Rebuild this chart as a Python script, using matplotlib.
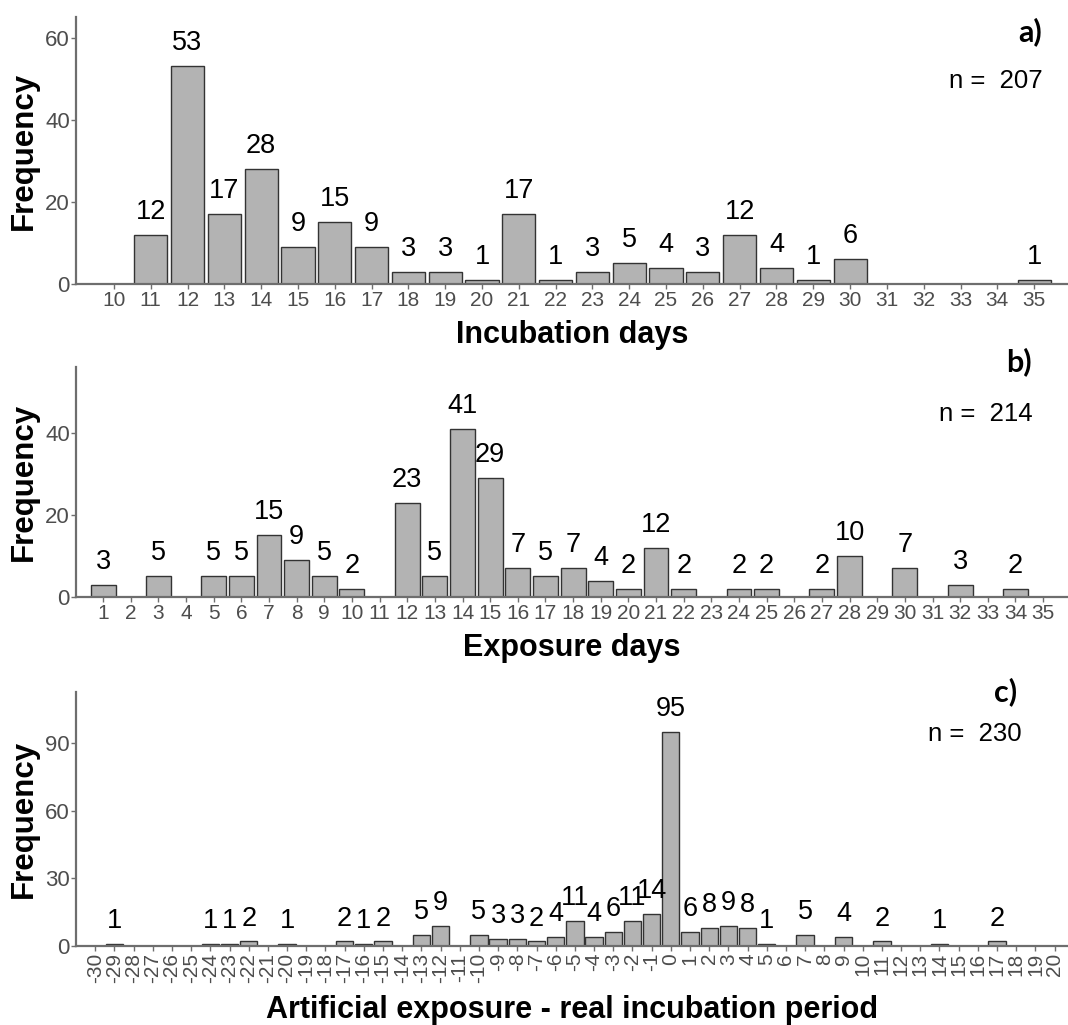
import matplotlib
matplotlib.use("Agg")
import matplotlib.pyplot as plt

plt.rcParams["font.family"] = ["Liberation Sans", "DejaVu Sans"]

# ── data ───────────────────────────────────────────────────────────────────────
incub_days = [11, 12, 13, 14, 15, 16, 17, 18, 19, 20, 21, 22, 23, 24, 25, 26, 27, 28, 29, 30, 35]
incub_freq = [12, 53, 17, 28, 9, 15, 9, 3, 3, 1, 17, 1, 3, 5, 4, 3, 12, 4, 1, 6, 1]

expo_days = [1, 3, 5, 6, 7, 8, 9, 10, 12, 13, 14, 15, 16, 17, 18, 19, 20, 21, 22, 24, 25, 27, 28, 30, 32, 34]
expo_freq = [3, 5, 5, 5, 15, 9, 5, 2, 23, 5, 41, 29, 7, 5, 7, 4, 2, 12, 2, 2, 2, 2, 10, 7, 3, 2]

diff_days = [-29, -24, -23, -22, -20, -17, -16, -15, -13, -12, -10, -9, -8, -7, -6, -5, -4, -3, -2, -1,
             0, 1, 2, 3, 4, 5, 7, 9, 11, 14, 17]
diff_freq = [1, 1, 1, 2, 1, 2, 1, 2, 5, 9, 5, 3, 3, 2, 4, 11, 4, 6, 11, 14,
             95, 6, 8, 9, 8, 1, 5, 4, 2, 1, 2]

incub_ticks = list(range(10, 36))
expo_ticks = list(range(1, 36))
diff_ticks = list(range(-30, 21))

n_labels = ["n =  207", "n =  214", "n =  230"]
panel_tags = ["a)", "b)", "c)"]
x_titles = ["Incubation days", "Exposure days", "Artificial exposure - real incubation period"]

# ── style ──────────────────────────────────────────────────────────────────────
BAR_FILL = "#b3b3b3"
BAR_EDGE = "#333333"
AXIS_COL = "#6e6e6e"
TICK_TXT = "#4d4d4d"

W, H = 1068, 1025
fig = plt.figure(figsize=(W / 100, H / 100), dpi=100)


def px_axes(top, bottom, left=76, right=1068):
    return fig.add_axes([left / W, 1 - bottom / H, (right - left) / W, (bottom - top) / H])


def draw_panel(ax, xs, ys, ticks, xlim, ylim, yticks, rot=0, tick_size=15):
    ax.bar(xs, ys, width=0.9, color=BAR_FILL, edgecolor=BAR_EDGE, linewidth=1.0, zorder=2)
    for x, y in zip(xs, ys):
        ax.annotate(str(y), (x, y), xytext=(0, 11.5), textcoords="offset points",
                    ha="center", va="baseline", fontsize=19.5, color="black")
    ax.set_xlim(*xlim)
    ax.set_ylim(*ylim)
    ax.set_xticks(ticks)
    ax.set_xticklabels([str(t) for t in ticks], rotation=rot)
    ax.set_yticks(yticks)
    ax.spines[["top", "right"]].set_visible(False)
    for s in ["left", "bottom"]:
        ax.spines[s].set_color(AXIS_COL)
        ax.spines[s].set_linewidth(1.6)
    ax.tick_params(axis="both", direction="out", length=3.5, width=1.0, color=AXIS_COL,
                   labelcolor=TICK_TXT)
    ax.tick_params(axis="x", labelsize=tick_size, pad=1.5)
    ax.tick_params(axis="y", labelsize=16, pad=1)


ax_a = px_axes(17, 284)
draw_panel(ax_a, incub_days, incub_freq, incub_ticks, (8.97, 35.92), (0, 65), [0, 20, 40, 60])

ax_b = px_axes(367, 597)
draw_panel(ax_b, expo_days, expo_freq, expo_ticks, (0.02, 35.9), (0, 56), [0, 20, 40])

ax_c = px_axes(692, 946)
draw_panel(ax_c, diff_days, diff_freq, diff_ticks, (-31.0, 20.7), (0, 112.6), [0, 30, 60, 90],
           rot=90, tick_size=15)

# y labels, x titles, panel tags, n counts (pixel positions from the figure)
for top, bottom in [(17, 284), (367, 597), (692, 946)]:
    fig.text(24 / W, 1 - (top + bottom) / 2 / H, "Frequency", rotation=90, ha="center",
             va="center", fontsize=22.5, fontweight="bold")

for title, y in zip(x_titles, [335, 648, 1010]):
    fig.text(572 / W, 1 - y / H, title, ha="center", va="center", fontsize=22, fontweight="bold")

for tag, (x, y) in zip(panel_tags, [(1030, 32), (1019, 362), (1006, 692)]):
    fig.text(x / W, 1 - y / H, tag, ha="center", va="center", fontsize=22, fontweight="bold",
             family=["Lato", "DejaVu Sans"])

for lab, (x, y) in zip(n_labels, [(1043, 81), (1033, 414), (1022, 734)]):
    fig.text(x / W, 1 - y / H, lab, ha="right", va="center", fontsize=18.5)

fig.savefig("out.png", dpi=100)
